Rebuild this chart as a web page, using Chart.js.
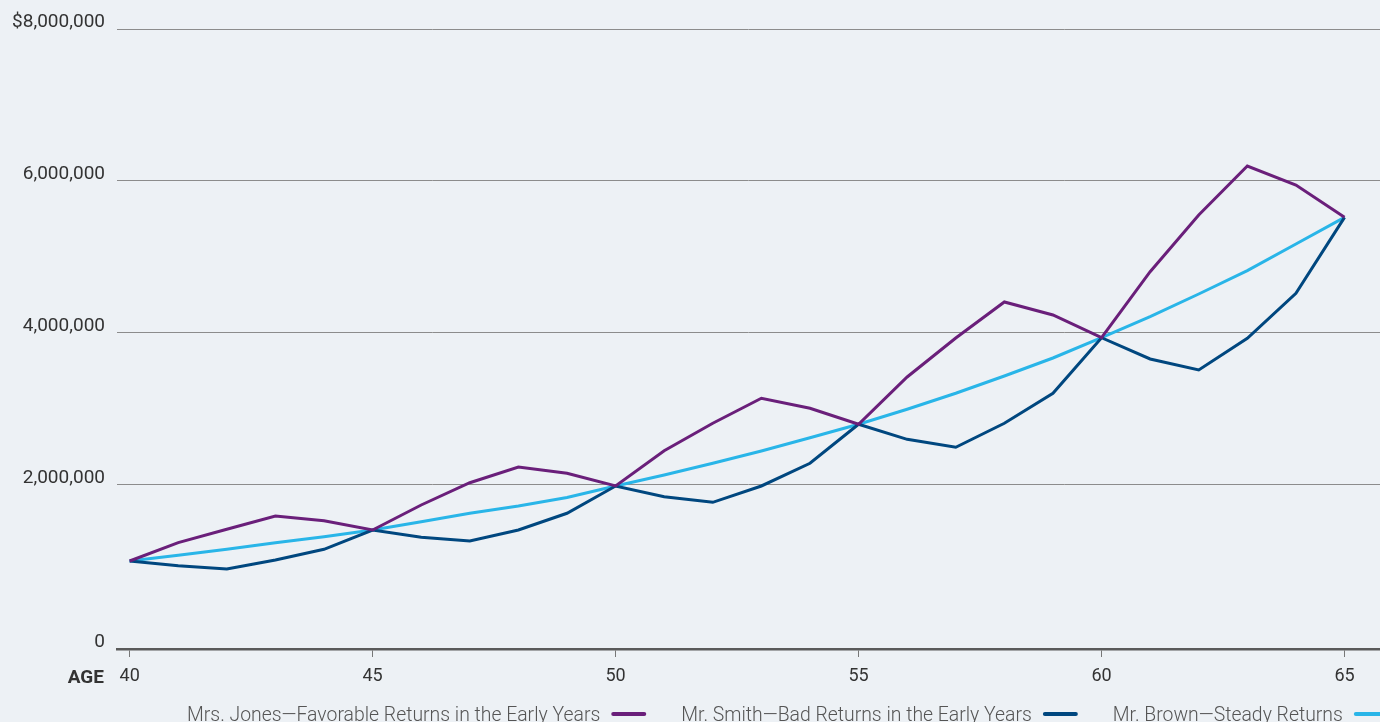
<!DOCTYPE html>
<html>
<head>
<meta charset="utf-8">
<script src="https://cdn.jsdelivr.net/npm/chart.js@4"></script>
<style>
  html, body { margin: 0; padding: 0; background: #edf1f5; }
  canvas { display: block; }
</style>
</head>
<body>
<canvas id="retireChart" width="1380" height="722"></canvas>
<script>
const ages = [40, 41, 42, 43, 44, 45, 46, 47, 48, 49, 50, 51, 52, 53, 54, 55, 56, 57, 58, 59, 60, 61, 62, 63, 64, 65];
const jonesValues = [1000000, 1241000, 1417000, 1592000, 1530000, 1408000, 1737000, 2030000, 2237000, 2154000, 1987000, 2451000, 2812000, 3141000, 3009000, 2799000, 3421000, 3934000, 4408000, 4237000, 3938000, 4807000, 5553000, 6197000, 5947000, 5522000];
const smithValues = [1000000, 938000, 895000, 1013000, 1154000, 1408000, 1312000, 1263000, 1408000, 1628000, 1987000, 1846000, 1772000, 1987000, 2286000, 2799000, 2601000, 2496000, 2812000, 3207000, 3938000, 3658000, 3513000, 3930000, 4522000, 5522000];
const brownValues = [1000000, 1075000, 1154000, 1241000, 1320000, 1408000, 1517000, 1628000, 1724000, 1836000, 1987000, 2132000, 2286000, 2447000, 2622000, 2799000, 2996000, 3207000, 3434000, 3671000, 3938000, 4214000, 4513000, 4820000, 5171000, 5522000];
const seriesNames = ['Mrs. Jones\u2014Favorable Returns in the Early Years', 'Mr. Smith\u2014Bad Returns in the Early Years', 'Mr. Brown\u2014Steady Returns'];
const xTickValues = [40, 45, 50, 55, 60, 65];
const yTickValues = [2000000, 4000000, 6000000, 8000000];
const yFloor = -158000; // baseline sits a little below zero in the original

const colors = ['#6a1f7a', '#00477f', '#29b5e8'];
const FONT = 'Roboto, "Noto Sans", sans-serif';

function toPoints(vals) {
    return ages.map((a, i) => ({ x: a, y: vals[i] }));
}

const bottomExtras = {
    id: 'bottomExtras',
    afterDraw(chart) {
        const ctx = chart.ctx;
        ctx.save();
        // AGE label
        ctx.font = 'bold 19px ' + FONT;
        ctx.fillStyle = '#333';
        ctx.textAlign = 'right';
        ctx.textBaseline = 'middle';
        ctx.fillText('AGE', 104, 678);

        // legend: text followed by a line sample
        ctx.font = '300 19.4px ' + FONT;
        ctx.textAlign = 'left';
        let x = 187;
        chart.data.datasets.forEach(function (ds) {
            ctx.fillStyle = '#555';
            ctx.fillText(ds.label, x, 716);
            x += ctx.measureText(ds.label).width + 13;
            ctx.strokeStyle = ds.borderColor;
            ctx.lineWidth = 4;
            ctx.lineCap = 'round';
            ctx.beginPath();
            ctx.moveTo(x, 714);
            ctx.lineTo(x + 31, 714);
            ctx.stroke();
            x += 31 + 37;
        });
        ctx.restore();
    }
};

new Chart(document.getElementById('retireChart'), {
    type: 'line',
    data: {
        datasets: [
            { label: seriesNames[0], data: toPoints(jonesValues), borderColor: colors[0] },
            { label: seriesNames[1], data: toPoints(smithValues), borderColor: colors[1] },
            { label: seriesNames[2], data: toPoints(brownValues), borderColor: colors[2] }
        ]
    },
    options: {
        responsive: false,
        animation: false,
        layout: { padding: { top: 29, right: 0, bottom: 0, left: 0 } },
        elements: {
            line: { borderWidth: 3, tension: 0, fill: false },
            point: { radius: 0, hoverRadius: 0 }
        },
        plugins: {
            legend: { display: false },
            tooltip: { enabled: false }
        },
        scales: {
            x: {
                type: 'linear',
                min: 39.74,
                max: 65.73,
                afterBuildTicks: function (scale) {
                    scale.ticks = xTickValues.map(v => ({ value: v }));
                },
                afterFit: function (scale) { scale.height = 73; },
                grid: { drawOnChartArea: false, tickLength: 8, color: '#777', lineWidth: 1 },
                border: { display: true, color: '#5a5a5a', width: 2.5 },
                ticks: {
                    padding: 9,
                    color: '#333',
                    font: { family: FONT, size: 18 },
                    maxRotation: 0
                }
            },
            y: {
                min: yFloor,
                max: 8000000,
                afterBuildTicks: function (scale) {
                    scale.ticks = [yFloor].concat(yTickValues).map(v => ({ value: v }));
                },
                afterFit: function (scale) { scale.width = 117; },
                grid: {
                    drawTicks: false,
                    tickLength: 0,
                    color: function (c) { return c.tick && c.tick.value === yFloor ? 'rgba(0,0,0,0)' : '#8c8c8c'; },
                    lineWidth: 1
                },
                border: { display: false },
                ticks: {
                    padding: 12,
                    labelOffset: -7,
                    color: '#333',
                    font: { family: FONT, size: 19 },
                    callback: function (v) {
                        if (v <= 0) return '0';
                        const s = Number(v).toLocaleString('en-US');
                        return v === 8000000 ? '$' + s : s;
                    }
                }
            }
        }
    },
    plugins: [bottomExtras]
});
</script>
</body>
</html>
